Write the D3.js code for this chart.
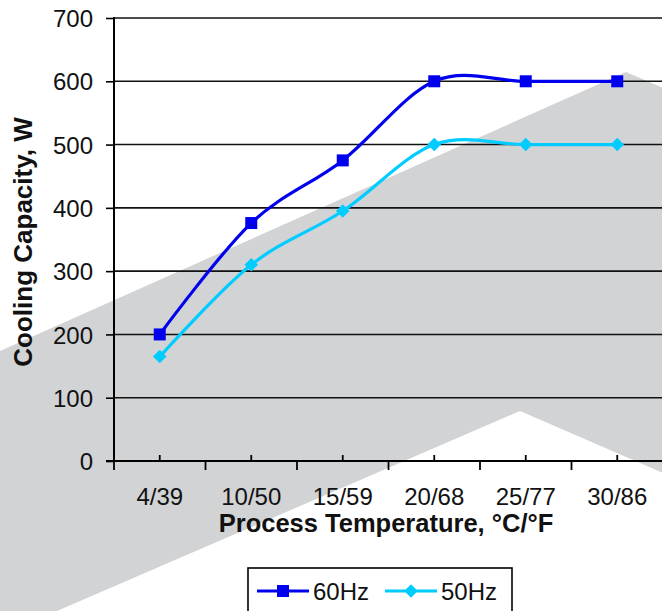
<!DOCTYPE html>
<html>
<head>
<meta charset="utf-8">
<script src="https://cdn.jsdelivr.net/npm/d3@7/dist/d3.min.js"></script>
<style>
  html, body { margin: 0; padding: 0; background: #fff; overflow: hidden; }
  svg { display: block; font-family: "Liberation Sans", Arial, sans-serif; }
</style>
</head>
<body>
<svg id="chart" width="662" height="611"></svg>
<script>
const categories = ["4/39", "10/50", "15/59", "20/68", "25/77", "30/86"];
const series60 = [200, 376, 475, 600, 600, 600];
const series50 = [165, 310, 395, 500, 500, 500];
const seriesNames = ["60Hz", "50Hz"];
const yTicks = [0, 100, 200, 300, 400, 500, 600, 700];

(function () {
const svg = d3.select("#chart");
const W = 662;
const pL = 114, pT = 18, pR = 663, pB = 461;

// background watermark chevron
svg.append("path")
  .attr("d", "M0,351 L626,72 L700,104 L700,489 L520,411 L57,611 L0,611 Z")
  .attr("fill", "#d2d3d5");

const x = d3.scaleBand().domain(categories).range([pL, pR]).paddingInner(0).paddingOuter(0);
const y = d3.scaleLinear().domain([0, 700]).range([pB, pT]);

// gridlines
svg.append("g").selectAll("line").data(yTicks.filter(d => d > 0)).join("line")
  .attr("x1", pL).attr("x2", W + 5)
  .attr("y1", d => y(d)).attr("y2", d => y(d))
  .attr("stroke", "#111").attr("stroke-width", 1.6);

// y axis
const yAxis = svg.append("g").attr("transform", `translate(${pL},0)`)
  .call(d3.axisLeft(y).tickValues(yTicks).tickSize(8).tickPadding(13).tickFormat(d3.format("d")));
yAxis.select(".domain").remove();
yAxis.selectAll(".tick line").attr("stroke", "#000").attr("stroke-width", 1.6);
yAxis.selectAll(".tick text").attr("font-size", 24).attr("fill", "#111").attr("dy", "0.36em")
  .attr("font-family", "Liberation Sans, Arial, sans-serif");
svg.append("line").attr("x1", pL).attr("x2", pL).attr("y1", pT - 1).attr("y2", pB)
  .attr("stroke", "#000").attr("stroke-width", 2);

// x axis: boundary ticks below, center ticks above
svg.append("line").attr("x1", pL - 8).attr("x2", W + 5).attr("y1", pB).attr("y2", pB)
  .attr("stroke", "#000").attr("stroke-width", 2.2);
const bounds = categories.map(c => x(c)).concat([x(categories[categories.length - 1]) + x.bandwidth()]);
svg.append("g").selectAll("line").data(bounds).join("line")
  .attr("x1", d => d).attr("x2", d => d).attr("y1", pB).attr("y2", pB + 9)
  .attr("stroke", "#000").attr("stroke-width", 1.8);
svg.append("g").selectAll("line").data(categories).join("line")
  .attr("x1", d => x(d) + x.bandwidth() / 2).attr("x2", d => x(d) + x.bandwidth() / 2)
  .attr("y1", pB).attr("y2", pB - 6)
  .attr("stroke", "#000").attr("stroke-width", 1.8);
svg.append("g").selectAll("text").data(categories).join("text")
  .attr("x", d => x(d) + x.bandwidth() / 2).attr("y", 505)
  .attr("text-anchor", "middle").attr("font-size", 24).attr("fill", "#111")
  .text(d => d);

// axis titles
svg.append("text").attr("x", 386).attr("y", 532).attr("text-anchor", "middle")
  .attr("font-size", 25.5).attr("font-weight", "bold").attr("fill", "#111")
  .text("Process Temperature, °C/°F");
svg.append("text").attr("transform", "translate(32,242) rotate(-90)").attr("text-anchor", "middle")
  .attr("font-size", 26).attr("font-weight", "bold").attr("fill", "#111")
  .text("Cooling Capacity, W");

// series
const colors = ["#0000ee", "#00ccff"];
const data = [series60, series50];
const line = d3.line()
  .x((d, i) => x(categories[i]) + x.bandwidth() / 2)
  .y(d => y(d))
  .curve(d3.curveCatmullRom.alpha(0));

data.forEach((vals, si) => {
  svg.append("path").datum(vals).attr("d", line)
    .attr("fill", "none").attr("stroke", colors[si]).attr("stroke-width", 3.2)
    .attr("stroke-linejoin", "round");
  const g = svg.append("g");
  vals.forEach((v, i) => {
    const cx = x(categories[i]) + x.bandwidth() / 2, cy = y(v);
    if (si === 0) {
      g.append("rect").attr("x", cx - 6).attr("y", cy - 6).attr("width", 12).attr("height", 12).attr("fill", colors[si]);
    } else {
      g.append("rect").attr("x", -4.8).attr("y", -4.8).attr("width", 9.6).attr("height", 9.6)
        .attr("transform", `translate(${cx},${cy}) rotate(45)`).attr("fill", colors[si]);
    }
  });
});

// legend
const lg = svg.append("g");
lg.append("rect").attr("x", 248).attr("y", 568).attr("width", 264).attr("height", 60)
  .attr("fill", "#fff").attr("stroke", "#000").attr("stroke-width", 1.6);
const legendX = [257, 385];
seriesNames.forEach((name, si) => {
  const lx = legendX[si], ly = 591;
  lg.append("line").attr("x1", lx).attr("x2", lx + 52).attr("y1", ly).attr("y2", ly)
    .attr("stroke", colors[si]).attr("stroke-width", 3.2);
  if (si === 0) {
    lg.append("rect").attr("x", lx + 26 - 6).attr("y", ly - 6).attr("width", 12).attr("height", 12).attr("fill", colors[si]);
  } else {
    lg.append("rect").attr("x", -4.8).attr("y", -4.8).attr("width", 9.6).attr("height", 9.6)
      .attr("transform", `translate(${lx + 26},${ly}) rotate(45)`).attr("fill", colors[si]);
  }
  lg.append("text").attr("x", lx + 56).attr("y", ly + 9).attr("font-size", 24).attr("fill", "#111").text(name);
});
})();
</script>
</body>
</html>
